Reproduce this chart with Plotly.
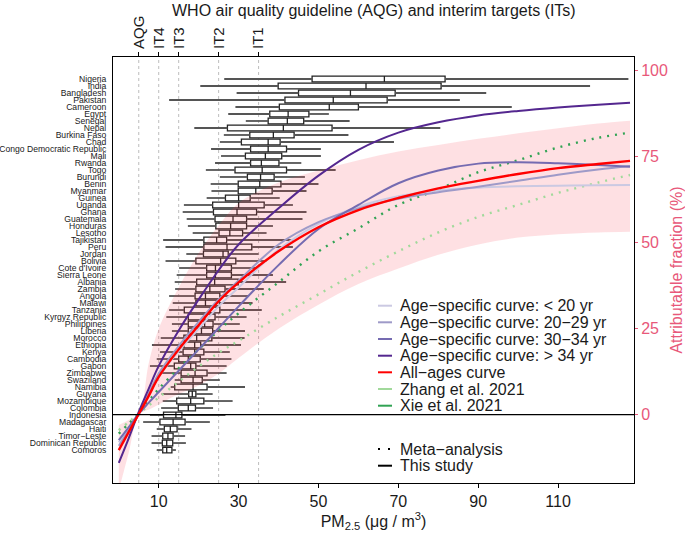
import plotly.graph_objects as go

# ---------------- data ----------------
countries = ["Nigeria", "India", "Bangladesh", "Pakistan", "Cameroon", "Egypt", "Senegal", "Nepal",
             "Burkina Faso", "Chad", "Congo Democratic Republic", "Mali", "Rwanda", "Togo", "Burundi",
             "Benin", "Myanmar", "Guinea", "Uganda", "Ghana", "Guatemala", "Honduras", "Lesotho",
             "Tajikistan", "Peru", "Jordan", "Bolivia", "Cote d'Ivoire", "Sierra Leone", "Albania",
             "Zambia", "Angola", "Malawi", "Tanzania", "Kyrgyz Republic", "Philippines", "Liberia",
             "Morocco", "Ethiopia", "Kenya", "Cambodia", "Gabon", "Zimbabwe", "Swaziland", "Namibia",
             "Guyana", "Mozambique", "Colombia", "Indonesia", "Madagascar", "Haiti", "Timor\u2212Leste",
             "Dominican Republic", "Comoros"]
pm_low = [26.4, 20.4, 29.5, 12.6, 29.2, 27.4, 31.8, 18.9, 26.3, 25.3, 23.1, 25.6, 24.1, 21.8, 25.3,
          23.0, 23.2, 22.0, 16.3, 16.0, 17.0, 17.3, 18.5, 11.1, 11.7, 16.9, 11.7, 15.1, 14.5, 14.0,
          14.1, 12.6, 13.5, 12.6, 11.9, 13.3, 13.3, 10.5, 8.3, 10.3, 9.5, 7.8, 10.3, 14.0, 13.0,
          10.7, 11.0, 10.6, 7.8, 6.1, 9.5, 8.2, 8.2, 9.5]
pm_q1 = [48.4, 39.9, 45.0, 41.6, 40.2, 37.8, 37.4, 27.2, 32.8, 30.7, 33.0, 31.7, 33.0, 29.1, 32.2,
         29.9, 29.9, 26.7, 23.5, 23.7, 24.1, 24.3, 25.1, 21.3, 21.3, 21.2, 19.3, 22.0, 22.0, 19.5,
         19.3, 19.1, 19.3, 16.4, 17.4, 17.4, 17.4, 16.3, 16.3, 16.1, 15.0, 13.9, 15.6, 15.6, 14.0,
         17.5, 14.5, 14.9, 11.2, 10.3, 11.4, 11.0, 10.9, 11.0]
pm_med = [66.5, 61.9, 58.0, 53.7, 52.7, 42.4, 42.2, 41.2, 38.7, 37.4, 37.4, 36.7, 35.7, 35.9, 35.5,
          35.3, 34.3, 30.0, 30.0, 29.6, 28.6, 28.0, 27.8, 24.5, 27.1, 26.1, 25.5, 24.2, 24.2, 24.0,
          22.8, 21.7, 21.7, 22.9, 21.5, 21.5, 20.7, 19.5, 19.0, 19.0, 17.4, 18.0, 19.1, 18.6, 18.6,
          18.4, 18.0, 17.4, 14.3, 13.6, 12.9, 12.3, 12.0, 12.0]
pm_q3 = [81.7, 80.7, 69.2, 67.2, 60.0, 47.6, 46.3, 53.4, 43.9, 40.4, 42.0, 40.8, 40.1, 42.0, 38.9,
         40.6, 38.4, 32.9, 36.4, 34.5, 32.0, 32.0, 31.0, 27.0, 33.3, 27.4, 29.3, 28.2, 28.2, 29.9,
         26.6, 25.3, 25.2, 25.3, 24.1, 23.6, 23.5, 23.3, 20.5, 21.3, 20.4, 19.3, 22.1, 20.9, 22.1,
         19.3, 21.3, 19.2, 15.8, 16.6, 14.6, 13.6, 13.5, 13.3]
pm_high = [127.6, 118.0, 92.0, 85.4, 98.4, 52.6, 57.8, 80.5, 57.5, 68.9, 50.6, 50.6, 45.7, 54.3, 46.6,
           50.0, 47.0, 40.3, 43.6, 47.0, 46.0, 38.6, 37.0, 43.6, 43.6, 35.0, 37.0, 35.0, 38.6, 41.9,
           36.3, 32.6, 33.5, 35.8, 32.0, 30.3, 31.6, 31.5, 30.6, 27.8, 28.2, 27.0, 27.0, 25.3, 31.6,
           23.5, 28.5, 23.6, 26.7, 22.8, 18.2, 16.6, 16.8, 14.3]

# exposure-response curves (attributable fraction, %)
pm_grid = [0, 2.5, 5, 7.5, 10, 15, 20, 25, 30, 40, 50, 60, 70, 80, 90, 100, 110, 120, 128]
af_lt20 = [-8, -4, 0.2, 5.8, 11, 18.5, 25, 31.5, 37, 48, 55.5, 60.5, 63.5, 65.2, 66, 66.4, 66.6, 66.7, 66.8]
af_20_29 = [-9, -4.5, 0.2, 6.2, 12, 20, 27, 33.5, 39, 49.5, 56, 60, 62.8, 64.7, 66.3, 68, 69.8, 71.3, 72.3]
af_30_34 = [-7.4, -3.6, 0.3, 3.5, 6.6, 12.8, 19, 25.2, 31.5, 43.5, 54, 61, 67.3, 71, 73, 73.4, 73.1, 72.6, 72.1]
af_gt34 = [-14, -6.8, 0.8, 7.6, 14.2, 24.5, 33.5, 42, 49.5, 60, 69.5, 77, 82, 85, 87, 88.3, 89.3, 90.1, 90.7]
af_all = [-10.3, -5, 0.2, 5.5, 11, 19, 26, 33, 38.5, 47.5, 54.5, 59.5, 63, 65.8, 68, 70, 71.7, 72.9, 73.8]
af_all_lo = [-22, -11, 0, 1.5, 3, 6, 8.5, 12, 16.5, 25, 32, 38, 42.5, 46.5, 49.5, 51.5, 52.5, 53, 53.2]
af_all_hi = [-3, -1.5, 0, 15, 25, 37, 47, 55, 61.5, 67.5, 71, 74, 76.5, 78.4, 80.2, 81.8, 83.3, 84.7, 85.5]
af_zhang = [-4.5, -2.1, 0.3, 2.7, 5, 9.6, 14, 18, 21.5, 28.5, 35, 41.5, 47.5, 53, 57.5, 61, 64.5, 67.5, 69.7]
af_xie = [-5.5, -2.6, 0.3, 4, 7.5, 13.5, 19, 24.5, 29.5, 38.5, 47.5, 54.2, 61, 65.5, 70.5, 74, 77.7, 80.5, 82]

who_vals = [5, 10, 15, 25, 35]
who_labels = ["AQG", "IT4", "IT3", "IT2", "IT1"]
x_ticks = [10, 30, 50, 70, 90, 110]
y2_ticks = [0, 25, 50, 75, 100]

legend_labels = ["Age\u2212specific curve: < 20 yr", "Age\u2212specific curve: 20\u221229 yr",
                 "Age\u2212specific curve: 30\u221234 yr", "Age\u2212specific curve: > 34 yr",
                 "All\u2212ages curve", "Zhang et al. 2021", "Xie et al. 2021"]
legend_colors = ["#CBC9E2", "#9E9AC8", "#756BB1", "#54278F", "#FF0000", "#A1D99B", "#31A354"]

# ---------------- figure ----------------
FONT = "Liberation Sans, Arial, sans-serif"
PINK = "#E8587A"
W, H = 685, 540
L, R, T, B = 113, 51, 57, 57
pw, ph = W - L - R, H - T - B


def px2paper_x(px):
    return (px - L) / pw


def px2paper_y(py):
    return (H - B - py) / ph


fig = go.Figure()

# whiskers
wx, wy = [], []
for c, lo, q1, q3, hi in zip(countries, pm_low, pm_q1, pm_q3, pm_high):
    wx += [lo, q1, None, q3, hi, None]
    wy += [c, c, None, c, c, None]
fig.add_trace(go.Scatter(x=wx, y=wy, mode="lines", line=dict(color="#555555", width=1.8),
                         hoverinfo="skip", showlegend=False))

# boxes
fig.add_trace(go.Box(y=countries, q1=pm_q1, median=pm_med, q3=pm_q3,
                     lowerfence=pm_q1, upperfence=pm_q3, orientation="h",
                     fillcolor="white", line=dict(color="#222222", width=1.3),
                     whiskerwidth=0, width=0.8, boxpoints=False, showlegend=False,
                     hoverinfo="skip"))

# ribbon
fig.add_trace(go.Scatter(x=pm_grid, y=af_all_lo, yaxis="y2", mode="lines", line=dict(width=0),
                         line_shape="spline", showlegend=False, hoverinfo="skip"))
fig.add_trace(go.Scatter(x=pm_grid, y=af_all_hi, yaxis="y2", mode="lines", line=dict(width=0),
                         line_shape="spline", fill="tonexty", fillcolor="rgba(250,60,80,0.16)",
                         showlegend=False, hoverinfo="skip"))

curves = [(af_zhang, "#A1D99B", "2px,6px", 2.4), (af_xie, "#31A354", "2px,6px", 2.4),
          (af_lt20, "#CBC9E2", "solid", 2), (af_20_29, "#9E9AC8", "solid", 2),
          (af_30_34, "#756BB1", "solid", 2), (af_gt34, "#54278F", "solid", 2),
          (af_all, "#FF0000", "solid", 2.4)]
for ys, col, dash, wd in curves:
    fig.add_trace(go.Scatter(x=pm_grid, y=ys, yaxis="y2", mode="lines", line_shape="spline",
                             line=dict(color=col, width=wd, dash=dash), showlegend=False,
                             hoverinfo="skip"))

# dummy trace for top axis
fig.add_trace(go.Scatter(x=[who_vals[0]], y=[0], xaxis="x2", yaxis="y2", mode="markers",
                         marker=dict(opacity=0), showlegend=False, hoverinfo="skip"))

shapes = []
for v in who_vals:
    shapes.append(dict(type="line", xref="x", yref="paper", x0=v, x1=v, y0=0, y1=1,
                       line=dict(color="#BDBDBD", width=1, dash="3px,3px"), layer="below"))
shapes.append(dict(type="line", xref="paper", yref="y2", x0=0, x1=1, y0=0, y1=0,
                   line=dict(color="black", width=1.3)))

annotations = []
rows_y = [305.7, 322.3, 339, 355.7, 372.3, 389, 405.7]
for lab, col, py in zip(legend_labels, legend_colors, rows_y):
    shapes.append(dict(type="line", xref="paper", yref="paper", x0=px2paper_x(378), x1=px2paper_x(392),
                       y0=px2paper_y(py), y1=px2paper_y(py), line=dict(color=col, width=2)))
    annotations.append(dict(xref="paper", yref="paper", x=px2paper_x(398), y=px2paper_y(py),
                            text=lab, showarrow=False, xanchor="left", yanchor="middle",
                            font=dict(family=FONT, size=16, color="#1a1a1a")))
# line-type legend
shapes.append(dict(type="line", xref="paper", yref="paper", x0=px2paper_x(378), x1=px2paper_x(392),
                   y0=px2paper_y(449), y1=px2paper_y(449),
                   line=dict(color="black", width=2, dash="2px,8px")))
shapes.append(dict(type="line", xref="paper", yref="paper", x0=px2paper_x(378), x1=px2paper_x(392),
                   y0=px2paper_y(465.7), y1=px2paper_y(465.7), line=dict(color="black", width=2)))
for lab, py in [("Meta\u2212analysis", 449), ("This study", 465.7)]:
    annotations.append(dict(xref="paper", yref="paper", x=px2paper_x(398), y=px2paper_y(py),
                            text=lab, showarrow=False, xanchor="left", yanchor="middle",
                            font=dict(family=FONT, size=16, color="#1a1a1a")))
annotations.append(dict(xref="paper", yref="paper", x=0.5, y=px2paper_y(10),
                        text="WHO air quality guideline (AQG) and interim targets (ITs)",
                        showarrow=False, xanchor="center", yanchor="middle",
                        font=dict(family=FONT, size=16, color="#1a1a1a")))

x_range = [-1.45, 129]
fig.update_layout(
    width=W, height=H, margin=dict(l=L, r=R, t=T, b=B, autoexpand=False),
    paper_bgcolor="white", plot_bgcolor="white", showlegend=False,
    font=dict(family=FONT, color="#1a1a1a"),
    xaxis=dict(range=x_range, tickvals=x_ticks, ticks="outside", ticklen=4, tickcolor="black",
               showline=True, linecolor="black", linewidth=1, mirror=True, showgrid=False,
               zeroline=False, tickfont=dict(size=16),
               title=dict(text="PM<sub>2.5</sub> (\u03bcg / m<sup>3</sup>)", font=dict(size=16),
                          standoff=6)),
    xaxis2=dict(range=x_range, overlaying="x", side="top", anchor="y2", tickvals=who_vals,
                ticktext=who_labels, tickangle=-90, ticks="outside", ticklen=4, tickcolor="black",
                showgrid=False, zeroline=False, showline=False, tickfont=dict(size=15)),
    yaxis=dict(type="category", categoryorder="array", categoryarray=countries[::-1],
               tickmode="array", tickvals=countries, ticktext=countries,
               range=[-4.71, 56.14], showline=True, linecolor="black", linewidth=1, mirror=True,
               showgrid=False, zeroline=False, ticks="", tickfont=dict(size=8.6, color="#1a1a1a"),
               ticklabelstandoff=4),
    yaxis2=dict(overlaying="y", side="right", range=[-19.85, 104], tickvals=y2_ticks, ticks="outside",
                ticklen=3, tickcolor=PINK, tickfont=dict(size=16, color=PINK), showgrid=False,
                zeroline=False, showline=False,
                title=dict(text="Attributable fraction (%)", font=dict(size=16, color=PINK), standoff=4)),
    shapes=shapes, annotations=annotations,
)

fig.write_html("out.html", config={"displayModeBar": False},
               post_script="document.body.style.margin='0';document.body.style.padding='0';")
